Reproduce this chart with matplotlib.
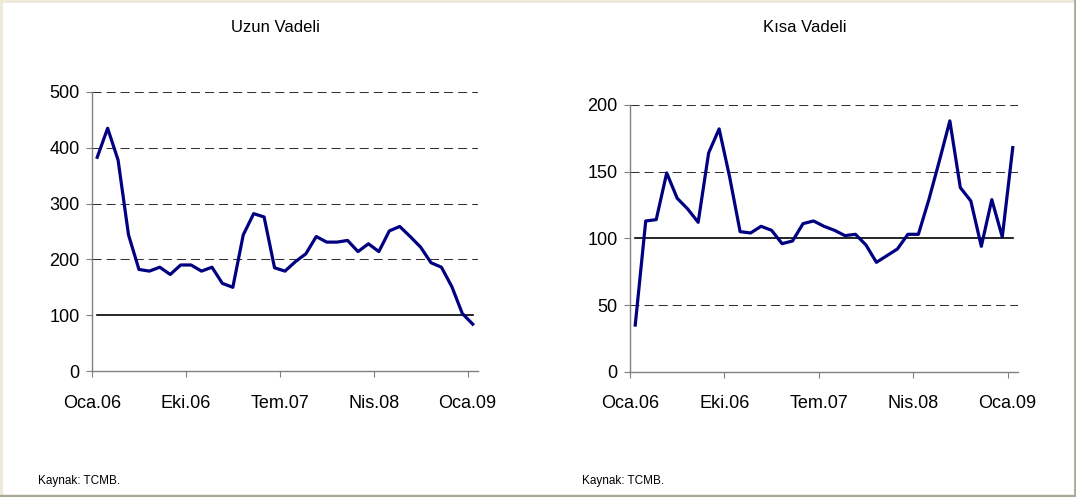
import matplotlib
matplotlib.use("Agg")
import matplotlib.pyplot as plt
from matplotlib.lines import Line2D

plt.rcParams['font.family'] = ['Liberation Sans', 'DejaVu Sans']

# monthly, Oca.06 .. Oca.09 (37 months)
uzun_vadeli = [383, 435, 378, 244, 182, 179, 186, 173, 190, 190, 179, 186,
               157, 150, 244, 282, 276, 185, 179, 196, 210, 241, 231, 231,
               234, 214, 228, 214, 251, 259, 241, 222, 194, 186, 151, 103, 84]
kisa_vadeli = [35, 113, 114, 149, 130, 122, 112, 164, 182, 146, 105, 104,
               109, 106, 96, 98, 111, 113, 109, 106, 102, 103, 95, 82,
               87, 92, 103, 103, 129, 158, 188, 138, 128, 94, 129, 101, 168]
tick_labels = ['Oca.06', 'Eki.06', 'Tem.07', 'Nis.08', 'Oca.09']
titles = ['Uzun Vadeli', 'Kısa Vadeli']
source_text = 'Kaynak: TCMB.'

navy = '#000080'

fig = plt.figure(figsize=(10.76, 4.97), dpi=100)


def draw_panel(rect, values, ymax, ystep):
    ax = fig.add_axes(rect)
    n = len(values)
    xs = [i + 0.5 for i in range(n)]
    # dashed gridlines
    for y in range(ystep, ymax + 1, ystep):
        if y != 100:
            ax.axhline(y, color='#333333', lw=0.75, dashes=(8.7, 4.8), zorder=1)
    # reference line at 100
    ax.plot([xs[0], xs[-1]], [100, 100], color='black', lw=1.2, zorder=2)
    ax.plot(xs, values, color=navy, lw=2.3, zorder=3, solid_joinstyle='round')
    ax.set_xlim(0, n)
    ax.set_ylim(0, ymax)
    ax.set_xticks(range(0, n, 9))
    ax.set_xticklabels(tick_labels)
    ax.set_yticks(range(0, ymax + 1, ystep))
    for s in ['top', 'right']:
        ax.spines[s].set_visible(False)
    for s in ['left', 'bottom']:
        ax.spines[s].set_color('#808080')
        ax.spines[s].set_linewidth(1.0)
    ax.tick_params(axis='both', direction='out', length=4, width=0.8,
                   color='#808080', labelsize=13, labelcolor='black')
    ax.tick_params(axis='x', pad=13)
    ax.tick_params(axis='y', pad=5)
    ax.patch.set_visible(False)
    return ax


draw_panel([0.0855, 0.2535, 0.3587, 0.5614], uzun_vadeli, 500, 100)
draw_panel([0.5855, 0.252, 0.3606, 0.537], kisa_vadeli, 200, 50)

fig.text(275 / 1076, 1 - 28 / 497, titles[0], ha='center', va='center', fontsize=12)
fig.text(805 / 1076, 1 - 28 / 497, titles[1], ha='center', va='center', fontsize=12)
fig.text(38 / 1076, 1 - 481 / 497, source_text, ha='left', va='center', fontsize=8.5)
fig.text(582 / 1076, 1 - 481 / 497, source_text, ha='left', va='center', fontsize=8.5)

# outer frame
fig.add_artist(Line2D([0.001, 0.001], [0, 1], transform=fig.transFigure, color='#ece9d8', lw=2))
fig.add_artist(Line2D([0, 1], [0.998, 0.998], transform=fig.transFigure, color='#ece9d8', lw=2))
fig.add_artist(Line2D([0, 1], [0.003, 0.003], transform=fig.transFigure, color='#aca899', lw=2.5))
fig.add_artist(Line2D([0.999, 0.999], [0, 1], transform=fig.transFigure, color='#aca899', lw=2))

fig.savefig('out.png', dpi=100)
